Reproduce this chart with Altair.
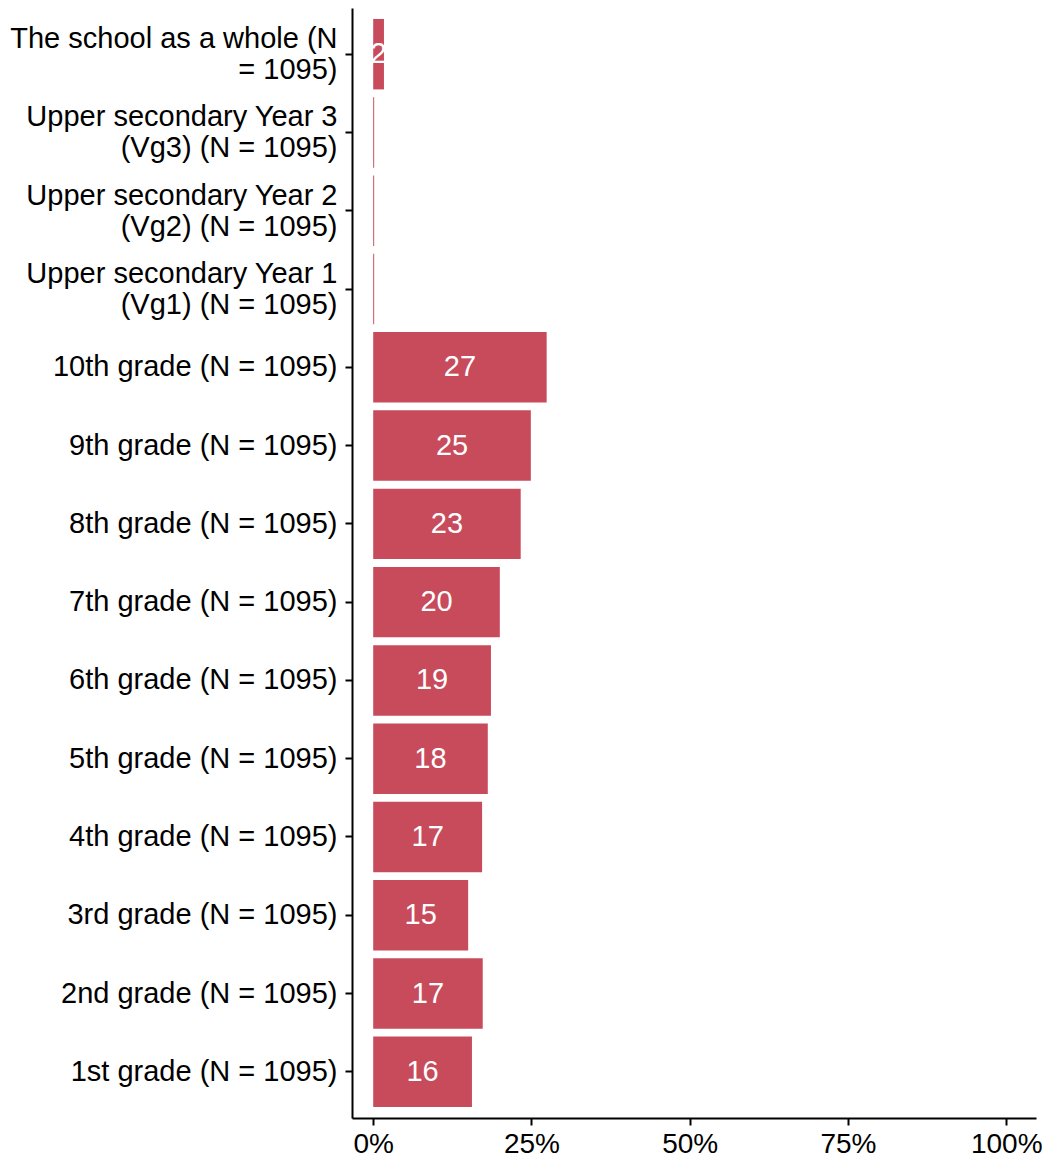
import altair as alt
import pandas as pd

categories = [
    "The school as a whole (N|= 1095)",
    "Upper secondary Year 3|(Vg3) (N = 1095)",
    "Upper secondary Year 2|(Vg2) (N = 1095)",
    "Upper secondary Year 1|(Vg1) (N = 1095)",
    "10th grade (N = 1095)",
    "9th grade (N = 1095)",
    "8th grade (N = 1095)",
    "7th grade (N = 1095)",
    "6th grade (N = 1095)",
    "5th grade (N = 1095)",
    "4th grade (N = 1095)",
    "3rd grade (N = 1095)",
    "2nd grade (N = 1095)",
    "1st grade (N = 1095)",
]
values = [1.7, 0.15, 0.15, 0.15, 27.4, 24.9, 23.3, 20.0, 18.6, 18.1, 17.2, 15.0, 17.3, 15.6]
labels = ["2", "", "", "", "27", "25", "23", "20", "19", "18", "17", "15", "17", "16"]
x_ticks = [0, 25, 50, 75, 100]

df = pd.DataFrame({"cat": categories, "value": values, "label": labels})
df["mid"] = df["value"] / 2

FONT = "Liberation Sans"
COLOR = "#C84B5B"

y_enc = alt.Y(
    "cat:N",
    sort=categories,
    title=None,
    scale=alt.Scale(paddingInner=0.1, paddingOuter=0.14),
    axis=alt.Axis(
        labelExpr="split(datum.label, '|')",
        labelFont=FONT,
        labelFontSize=29,
        labelColor="black",
        labelLineHeight=31,
        labelPadding=8,
        labelLimit=400,
        labelOffset={"condition": {"test": "indexof(datum.value, '|') >= 0", "value": -15}, "value": 0},
        tickSize=7,
        tickWidth=2,
        tickColor="black",
        domainColor="black",
        domainWidth=2,
        grid=False,
    ),
)

x_scale = alt.Scale(domain=[-3.35, 104.7], nice=False, zero=False)

bars = alt.Chart(df).mark_bar(color=COLOR).encode(
    y=y_enc,
    x=alt.X(
        "value:Q",
        scale=x_scale,
        title=None,
        axis=alt.Axis(
            values=x_ticks,
            labelExpr="datum.value + '%'",
            labelFont=FONT,
            labelFontSize=28,
            labelColor="black",
            labelPadding=5,
            labelFlush=False,
            tickSize=7,
            tickWidth=2,
            tickColor="black",
            domainColor="black",
            domainWidth=2,
            grid=False,
        ),
    ),
    x2=alt.datum(0),
)

text = alt.Chart(df).mark_text(
    color="white", font=FONT, fontSize=29, align="center", baseline="middle"
).encode(
    y=alt.Y("cat:N", sort=categories),
    x=alt.X("mid:Q", scale=x_scale),
    text="label:N",
)

chart = (
    alt.layer(bars, text)
    .properties(
        width=684,
        height=1110,
        background="white",
        autosize=alt.AutoSizeParams(type="none"),
        padding={"left": 344, "top": 0, "right": 6, "bottom": 44},
        view=alt.ViewBackground(strokeWidth=0, stroke="transparent"),
    )
    .configure_view(strokeWidth=0, stroke="transparent")
)

chart.save("out.html", embed_options={"renderer": "svg", "actions": False})
